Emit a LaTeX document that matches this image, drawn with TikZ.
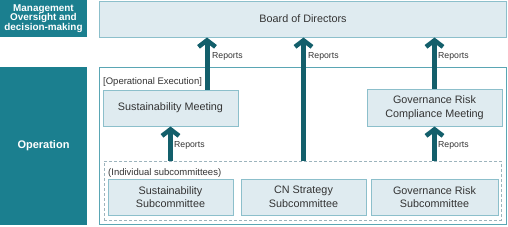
\documentclass[tikz,border=0pt]{standalone}
\usepackage{fontspec}
\setmainfont{Liberation Sans}
\usetikzlibrary{arrows.meta,calc}
\definecolor{tealbox}{HTML}{1B7F8F}
\definecolor{arrowc}{HTML}{135F6B}
\definecolor{lightfill}{HTML}{DFEBF0}
\definecolor{lightborder}{HTML}{8CBFCB}
\definecolor{outerborder}{HTML}{5AA6B4}
\definecolor{dashc}{HTML}{9DB4BD}
\definecolor{textc}{HTML}{333333}
\tikzset{
  sidebox/.style={fill=tealbox, draw=none, text=white, font=\bfseries, align=center, inner sep=0pt},
  lightbox/.style={fill=lightfill, draw=lightborder, line width=1pt, text=textc, align=center, inner sep=0pt, font=\fontsize{10.8}{13.5}\selectfont},
  arr/.style={draw=arrowc, line width=5pt, -{Straight Barb[length=6.5pt,width=17pt,line width=4.5pt]}},
  rep/.style={anchor=west, text=textc, font=\fontsize{8.7}{10}\selectfont, inner sep=0pt},
  lbl/.style={anchor=west, text=textc, font=\fontsize{9.5}{11}\selectfont, inner sep=0pt}
}
\begin{document}
\begin{tikzpicture}[x=1pt,y=-1pt]
\useasboundingbox (0,0) rectangle (508,226);
% left labels
\node[sidebox, minimum width=87pt, minimum height=36.5pt, font=\bfseries\fontsize{9.9}{9.6}\selectfont] (mgmt) at (43.5,18.25) {Management\\Oversight and\\decision-making};
\node[sidebox, minimum width=87pt, minimum height=158pt, font=\bfseries\fontsize{11}{13}\selectfont] (oper) at (43.5,146) {Operation};
% board
\node[lightbox, minimum width=407pt, minimum height=36pt] (board) at (303,19) {Board of Directors};
% operation outer
\node[draw=outerborder, line width=1pt, fill=white, minimum width=407pt, minimum height=157pt, inner sep=0pt] (opbox) at (303,146) {};
\node[lbl] (opex) at (103,82) {[Operational Execution]};
% dashed box
\node[draw=dashc, dashed, dash pattern=on 3pt off 2pt, line width=0.7pt, minimum width=397pt, minimum height=59pt, inner sep=0pt] (dash) at (302.5,190.5) {};
\node[lbl] (indiv) at (108,173) {(Individual subcommittees)};
% meetings
\node[lightbox, minimum width=135pt, minimum height=36pt] (sm) at (170.5,108) {Sustainability Meeting};
\node[lightbox, minimum width=135pt, minimum height=37pt] (grcm) at (434.5,107.5) {Governance Risk\\Compliance Meeting};
% subcommittees
\node[lightbox, minimum width=125pt, minimum height=36pt] (ss) at (170.5,197) {Sustainability\\Subcommittee};
\node[lightbox, minimum width=125pt, minimum height=36pt] (cn) at (303.5,197) {CN Strategy\\Subcommittee};
\node[lightbox, minimum width=127pt, minimum height=36pt] (grs) at (434.5,197) {Governance Risk\\Subcommittee};
% arrows
\coordinate (x1) at (207,0);
\draw[arr] (sm.north -| x1) -- (board.south -| x1);
\draw[arr] (dash.north -| cn) -- (board.south -| cn);
\draw[arr] (grcm.north) -- (board.south -| grcm);
\draw[arr] (dash.north -| grcm) -- (grcm.south);
\draw[arr] (dash.north -| sm) -- (sm.south);
% reports labels
\node[rep] (r1) at (212,56) {Reports};
\node[rep] (r2) at (308,56) {Reports};
\node[rep] (r3) at (438,56) {Reports};
\node[rep] (r4) at (174,145) {Reports};
\node[rep] (r5) at (438,145) {Reports};
\end{tikzpicture}
\end{document}
